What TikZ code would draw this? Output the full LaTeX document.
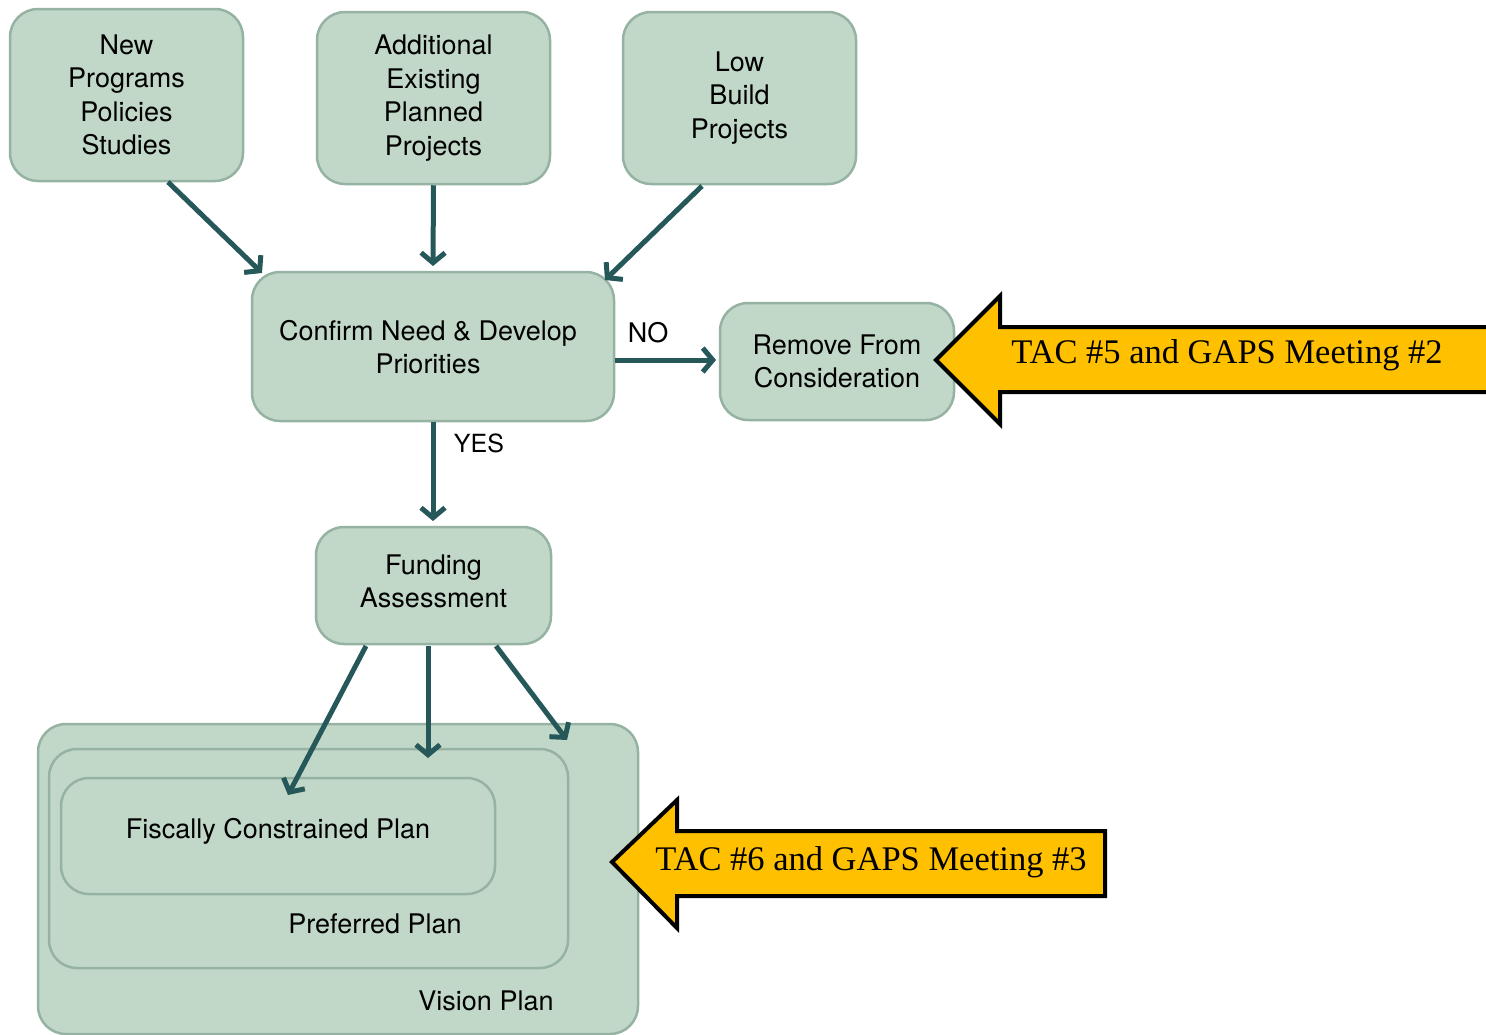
\documentclass[tikz,border=0pt]{standalone}
\usepackage{fontspec}
\setmainfont{Liberation Serif}
\newfontfamily\boxfont{TeX Gyre Heros}
\usetikzlibrary{arrows.meta}
\definecolor{boxfill}{RGB}{193,216,200}
\definecolor{boxedge}{RGB}{150,178,162}
\definecolor{arrcol}{RGB}{38,88,90}
\definecolor{tacfill}{RGB}{255,192,0}
\tikzset{
  gbox/.style={draw=boxedge, fill=boxfill, line width=2.5pt, rounded corners=28pt, inner sep=0pt,
    align=center, font=\boxfont\fontsize{27pt}{33.5pt}\selectfont},
  lbl/.style={inner sep=0pt, font=\boxfont\fontsize{27pt}{33.5pt}\selectfont},
  arr/.style={draw=arrcol, line width=5pt, -{Straight Barb[length=10pt,width=24pt,line width=5pt]}},
  tac/.style={draw=black, fill=tacfill, line width=4pt, line join=miter},
  tactext/.style={inner sep=0pt, font=\fontsize{34.5pt}{38pt}\selectfont}
}
\begin{document}
\begin{tikzpicture}[x=1pt,y=-1pt]
\useasboundingbox (0,0) rectangle (1486,1034);
% top boxes
\node[gbox, minimum width=233pt, minimum height=172pt] (b1) at (126.5,95) {New\\Programs\\Policies\\Studies};
\node[gbox, minimum width=233pt, minimum height=172pt] (b2) at (433.5,98) {Additional\\Existing\\Planned\\Projects};
\node[gbox, minimum width=233pt, minimum height=172pt] (b3) at (739.5,98) {Low\\Build\\Projects};
\node[gbox, minimum width=362pt, minimum height=149pt] (conf) at (433,346.5) {};
\node[lbl, align=center] (conft) at (428,347) {Confirm Need \& Develop\\Priorities};
\node[gbox, minimum width=234pt, minimum height=117pt] (rem) at (837,361.5) {Remove From\\Consideration};
\node[gbox, minimum width=235pt, minimum height=117pt] (fund) at (433.5,585.5) {};
\node[lbl, align=center] (fundt) at (433.5,581.5) {Funding\\Assessment};
% nested plans
\node[gbox, minimum width=600pt, minimum height=310pt] (vis) at (338,879) {};
\node[gbox, minimum width=519pt, minimum height=219pt] (pref) at (308.5,858.5) {};
\node[gbox, minimum width=434pt, minimum height=116pt] (fisc) at (278,836) {};
\node[lbl] (fisct) at (278,831) {Fiscally Constrained Plan};
\node[lbl] (preft) at (375,924) {Preferred Plan};
\node[lbl] (vist) at (486,1001) {Vision Plan};
% labels
\node[lbl] (no) at (648,333) {NO};
\node[lbl, font=\boxfont\fontsize{25pt}{30pt}\selectfont] (yes) at (479,443) {YES};
% arrow endpoints
\coordinate (e1) at (262,273);
\coordinate (e3) at (605,280);
\coordinate (ef) at (288,795);
\coordinate (ep) at (428,758);
\coordinate (ev) at (567,740);
% connectors
\draw[arr] (168,182) -- (e1);
\draw[arr] (b2.south) -- (433,266);
\draw[arr] (702,186) -- (e3);
\draw[arr] (conf.east |- 0,360) -- (716,360);
\draw[arr] (conf.south) -- (433,521);
\draw[arr] (366,646) -- (ef);
\draw[arr] (428,646) -- (ep);
\draw[arr] (496,646) -- (ev);
% TAC arrows
\draw[tac] (936,360) -- (1000,296) -- (1000,327) -- (1495,327) -- (1495,392) -- (1000,392) -- (1000,424) -- cycle;
\node[tactext] (tac1) at (1227,355) {TAC \#5 and GAPS Meeting \#2};
\draw[tac] (612,862) -- (677,800) -- (677,831) -- (1105,831) -- (1105,896) -- (677,896) -- (677,928) -- cycle;
\node[tactext] (tac2) at (871,862) {TAC \#6 and GAPS Meeting \#3};
\end{tikzpicture}
\end{document}
